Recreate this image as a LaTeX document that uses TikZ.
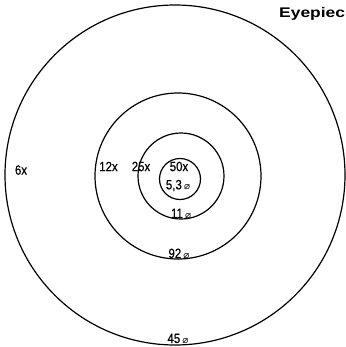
\documentclass[tikz,border=0pt]{standalone}
\usepackage{fontspec}
\setmainfont{Liberation Sans}
\newfontfamily\symfont{DejaVu Sans}
\newfontfamily\labelfont{Liberation Sans}[FakeStretch=0.85, FakeBold=0.6]
\newfontfamily\titlefont{Liberation Sans}[FakeStretch=1.25]
\usepackage{tikz}
\usepackage{xcolor}

\newcommand{\diam}{\,{\symfont\fontsize{10}{11}\selectfont ⌀}}

\tikzset{
  field/.style={line width=1.2bp},
  maglabel/.style={font=\labelfont\fontsize{13.5}{14}\selectfont, inner sep=0pt},
  sizelabel/.style={font=\labelfont\fontsize{13.5}{14}\selectfont, inner sep=0pt, anchor=base}
}

\begin{document}
\begin{tikzpicture}[x=1bp, y=-1bp]
	\useasboundingbox (0,0) rectangle (346,347);
	\clip (0,0) rectangle (346,347);

	% 6x field
	\draw[field] (175,175) circle (170);
	% 12x field
	\draw[field] (178,176) circle (83);
	% 25x field
	\draw[field] (181,176) circle (43);
	% 50x field
	\draw[field] (180,179) circle (20.5);

	% magnifications
	\node[maglabel] (mag6) at (21,170) {6x};
	\node[maglabel] (mag12) at (108.5,166.5) {12x};
	\node[maglabel] (mag25) at (141,166.5) {25x};
	\node[maglabel] (mag50) at (179,166.5) {50x};

	% field diameters
	\node[maglabel] (dia50) at (178,185.5) {5,3\diam};
	\node[sizelabel] (dia25) at (181,218) {11\diam};
	\node[sizelabel] (dia12) at (179,258) {92\diam};
	\node[sizelabel] (dia6) at (178,343) {45\diam};

	% title
	\node[font=\titlefont\bfseries\fontsize{14}{15}\selectfont, anchor=west, inner sep=0pt] (title) at (279,14) {Eyepiec};
\end{tikzpicture}
\end{document}
